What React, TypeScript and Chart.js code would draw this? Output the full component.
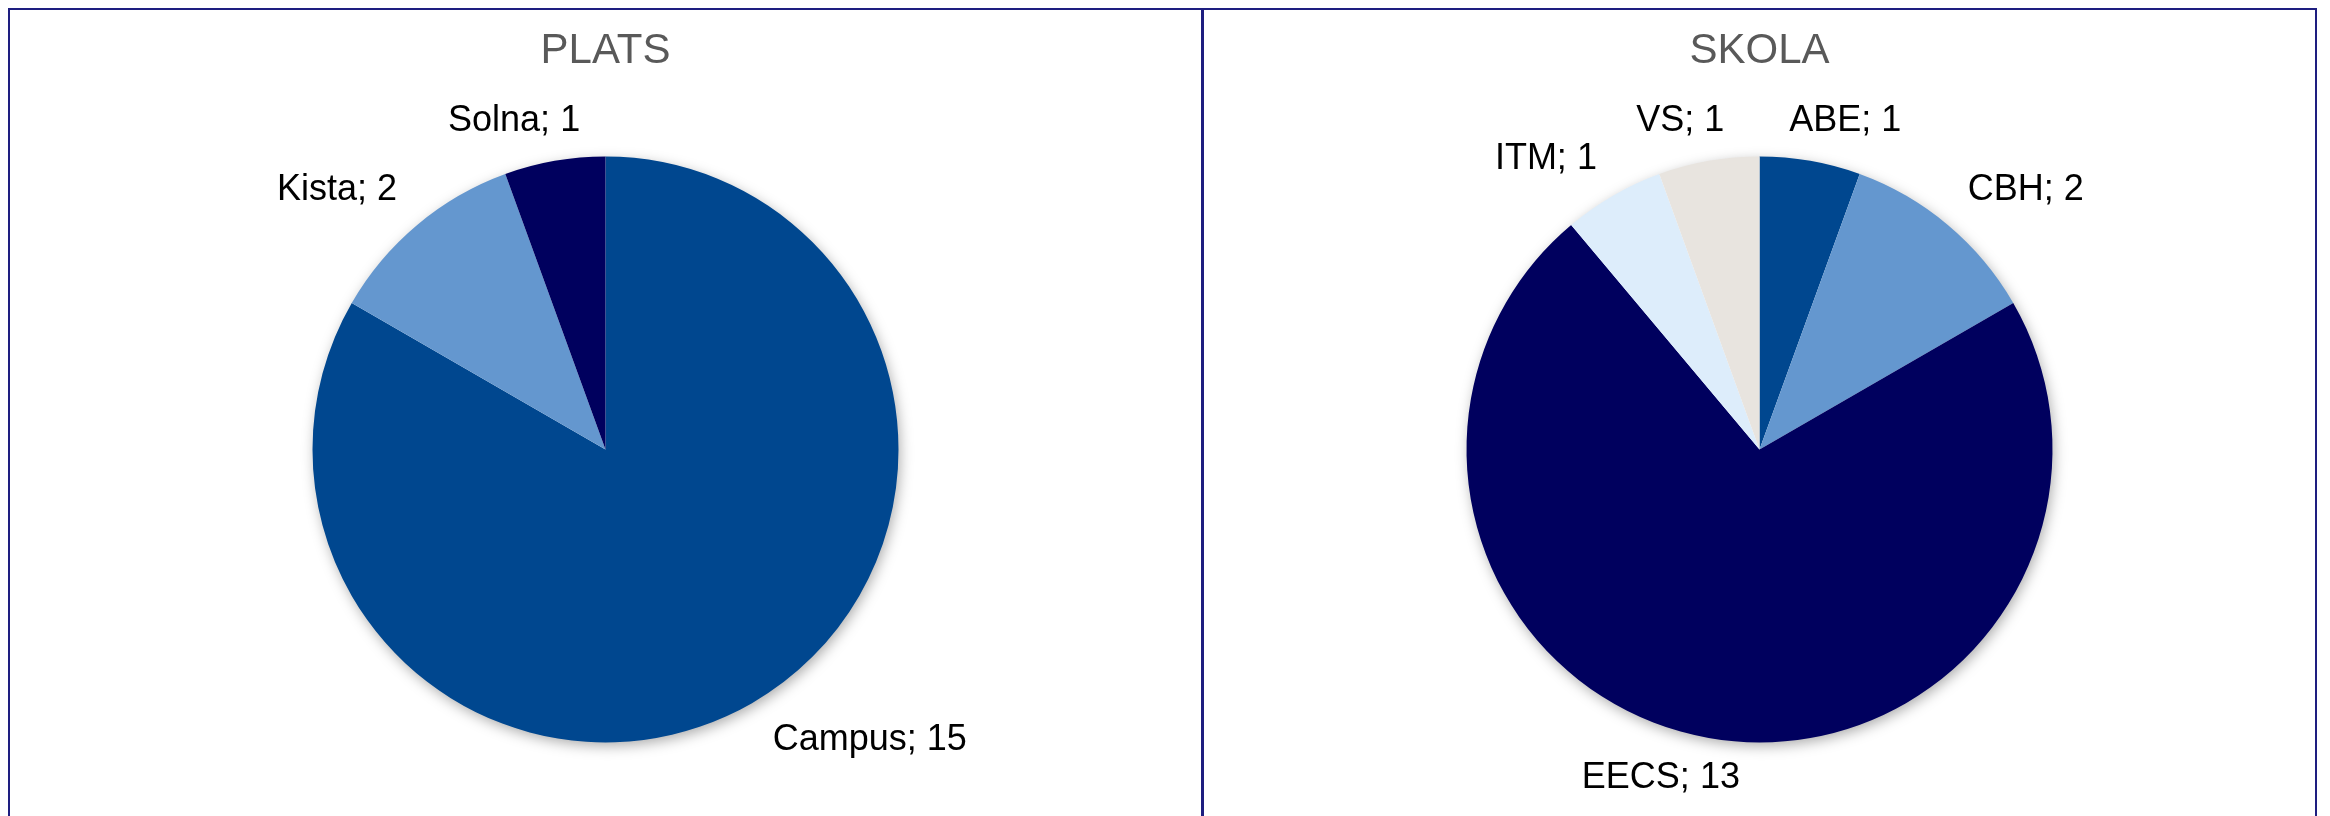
import React, { useEffect, useRef } from "react";
import { Chart, registerables } from "chart.js";

Chart.register(...registerables);

const platsLabels = ["Campus", "Kista", "Solna"];
const platsValues = [15, 2, 1];
const platsColors = ["#00478F", "#6497CF", "#00005E"];

const skolaLabels = ["ABE", "CBH", "EECS", "ITM", "VS"];
const skolaValues = [1, 2, 13, 1, 1];
const skolaColors = ["#00478F", "#6497CF", "#00005E", "#DDEDFB", "#E8E4DF"];

const FONT = "'Liberation Sans', Arial, sans-serif";

const shadowPlugin = {
  id: "pieShadow",
  beforeDatasetsDraw(chart: any) {
    const meta = chart.getDatasetMeta(0);
    const arc = meta.data[0];
    if (!arc) return;
    const { x, y, outerRadius } = arc.getProps(["x", "y", "outerRadius"], true);
    const ctx = chart.ctx;
    ctx.save();
    ctx.shadowColor = "rgba(0,0,0,0.35)";
    ctx.shadowBlur = 14;
    ctx.shadowOffsetX = 2;
    ctx.shadowOffsetY = 4;
    ctx.fillStyle = "#ffffff";
    ctx.beginPath();
    ctx.arc(x, y, outerRadius - 1, 0, Math.PI * 2);
    ctx.fill();
    ctx.restore();
  },
};

const clamp = (v: number, lo: number, hi: number) => Math.max(lo, Math.min(hi, v));

const labelPlugin = {
  id: "outsideLabels",
  afterDatasetsDraw(chart: any) {
    const ctx = chart.ctx;
    const meta = chart.getDatasetMeta(0);
    const labels = chart.data.labels;
    const values = chart.data.datasets[0].data;
    const fontSize = 36;
    ctx.save();
    ctx.font = `${fontSize}px ${FONT}`;
    ctx.fillStyle = "#000000";
    ctx.textAlign = "center";
    ctx.textBaseline = "middle";
    meta.data.forEach((arc: any, i: number) => {
      const { x, y, startAngle, endAngle, outerRadius } = arc.getProps(
        ["x", "y", "startAngle", "endAngle", "outerRadius"],
        true
      );
      const mid = (startAngle + endAngle) / 2;
      const dx = Math.cos(mid);
      const dy = Math.sin(mid);
      const rr = outerRadius + 22;
      const ax = x + rr * dx;
      const ay = y + rr * dy;
      const text = `${labels[i]}; ${values[i]}`;
      const w = ctx.measureText(text).width;
      const fx = clamp(dx * 3.2, -1.1, 1.1);
      const fy = clamp(dy * 3.2, -1, 1);
      ctx.fillText(text, ax + (fx * w) / 2, ay + (fy * fontSize) / 2);
    });
    ctx.restore();
  },
};

function PieChart(props: {
  title: string;
  labels: string[];
  values: number[];
  colors: string[];
  width: number;
  height: number;
  titleTop: number;
  titleGap: number;
  padBottom: number;
}) {
  const ref = useRef<HTMLCanvasElement | null>(null);
  useEffect(() => {
    if (!ref.current) return;
    const chart = new Chart(ref.current, {
      type: "pie",
      data: {
        labels: props.labels,
        datasets: [
          {
            data: props.values,
            backgroundColor: props.colors,
            borderWidth: 0,
          },
        ],
      },
      options: {
        animation: false,
        responsive: false,
        devicePixelRatio: 1,
        layout: { padding: { top: 0, bottom: props.padBottom, left: 0, right: 0 } },
        plugins: {
          legend: { display: false },
          tooltip: { enabled: false },
          title: {
            display: true,
            text: props.title,
            color: "#595959",
            font: { family: FONT, size: 42, weight: "normal", lineHeight: 1.2 },
            padding: { top: props.titleTop, bottom: props.titleGap },
          },
        },
      } as any,
      plugins: [shadowPlugin, labelPlugin],
    });
    return () => chart.destroy();
  }, []);
  return <canvas ref={ref} width={props.width} height={props.height} style={{ display: "block" }} />;
}

export default function App() {
  const border = "2px solid #1E1E80";
  return (
    <div style={{ display: "flex", background: "#fff", fontFamily: FONT }}>
      <div style={{ border, width: 1191, height: 826, flex: "none" }}>
        <PieChart
          title="PLATS"
          labels={platsLabels}
          values={platsValues}
          colors={platsColors}
          width={1191}
          height={826}
          titleTop={16}
          titleGap={80}
          padBottom={93.6}
        />
      </div>
      <div style={{ border, width: 1111, height: 826, flex: "none", marginLeft: -1 }}>
        <PieChart
          title="SKOLA"
          labels={skolaLabels}
          values={skolaValues}
          colors={skolaColors}
          width={1111}
          height={826}
          titleTop={16}
          titleGap={80}
          padBottom={93.6}
        />
      </div>
    </div>
  );
}
